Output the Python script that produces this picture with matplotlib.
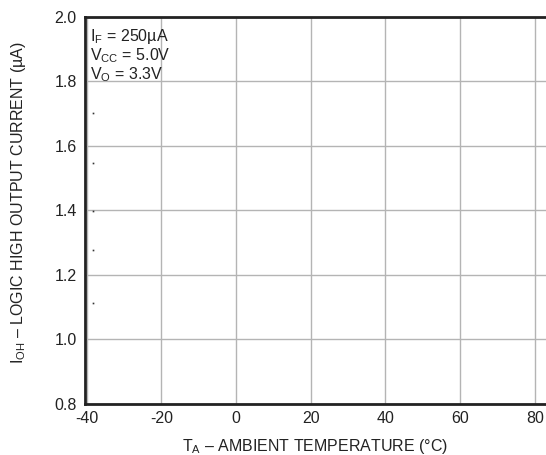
import matplotlib as mpl
import matplotlib.pyplot as plt

mpl.use('Agg')

plt.rcParams['font.family'] = ['Liberation Sans', 'DejaVu Sans']
plt.rcParams['mathtext.fontset'] = 'custom'
plt.rcParams['mathtext.rm'] = 'Liberation Sans'
plt.rcParams['mathtext.it'] = 'Liberation Sans'
plt.rcParams['axes.unicode_minus'] = False

# stray points left near the left axis
dot_temp = [-38.3, -38.3, -38.3, -38.3, -38.3]
dot_ioh = [1.70, 1.547, 1.398, 1.277, 1.113]

x_ticks = [-40, -20, 0, 20, 40, 60, 80]
y_ticks = [0.8, 1.0, 1.2, 1.4, 1.6, 1.8, 2.0]
y_labels = ['0.8', '1.0', '1.2', '1.4', '1.6', '1.8', '2.0']

fs = 11.5

fig = plt.figure(figsize=(5.46, 4.55), dpi=100)
ax = fig.add_axes([0.1557, 0.1121, 0.8443, 0.8516])

ax.plot(dot_temp, dot_ioh, linestyle='none', marker='s', markersize=1.2,
        color='#333333', markeredgewidth=0)

ax.set_xlim(-40.45, 83.0)
ax.set_ylim(0.8, 2.0)
ax.set_xticks(x_ticks)
ax.set_yticks(y_ticks)
ax.set_yticklabels(y_labels)
ax.grid(True, color='#b4b4b4', linewidth=1.0)
ax.set_axisbelow(True)
ax.tick_params(length=0, labelsize=fs, colors='#222222', pad=6)
ax.tick_params(axis='x', pad=5)

for side in ['left', 'bottom', 'top']:
    ax.spines[side].set_color('#222222')
    ax.spines[side].set_linewidth(2.0)
ax.spines['right'].set_visible(False)

ax.set_xlabel(r'T$_\mathrm{A}$ – AMBIENT TEMPERATURE (°C)', fontsize=fs,
              color='#222222', labelpad=8)
ax.set_ylabel(r'I$_\mathrm{OH}$ – LOGIC HIGH OUTPUT CURRENT (µA)', fontsize=fs,
              color='#222222')
ax.yaxis.set_label_coords(-0.124, 0.521)

ax.text(0.011, 0.972,
        'I$_\\mathrm{F}$ = 250µA\nV$_\\mathrm{CC}$ = 5.0V\nV$_\\mathrm{O}$ = 3.3V',
        transform=ax.transAxes, ha='left', va='top', fontsize=fs,
        color='#222222', linespacing=1.0)

fig.savefig('out.png', dpi=100)
